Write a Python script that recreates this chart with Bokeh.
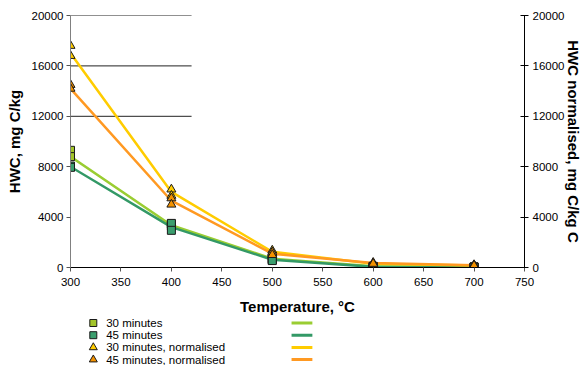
from bokeh.plotting import figure
from bokeh.layouts import column
from bokeh.models import Range1d, LinearAxis, FixedTicker
from bokeh.core.properties import value
from bokeh.embed import file_html
from bokeh.resources import INLINE

# ---- data ----
temps = [300, 400, 500, 600, 700]
mean_30 = [8800, 3350, 700, 100, 50]
mean_45 = [8000, 3200, 620, 50, 20]
mean_30n = [17000, 6000, 1250, 300, 150]
mean_45n = [14200, 5300, 1100, 350, 180]

rep_temps = [300, 300, 400, 400, 500, 500, 600, 600, 700, 700]
rep_30 = [9300, 8800, 3450, 3300, 700, 650, 100, 80, 50, 40]
rep_45 = [8050, 7950, 3500, 2950, 600, 550, 50, 30, 20, 10]
rep_30n = [17600, 16800, 6200, 5700, 1350, 1150, 320, 250, 180, 120]
rep_45n = [14500, 14200, 5500, 5000, 1200, 1000, 380, 300, 200, 150]

series_labels = ["30 minutes", "45 minutes", "30 minutes, normalised", "45 minutes, normalised"]

x_ticks = [300, 350, 400, 450, 500, 550, 600, 650, 700, 750]
y_ticks = [0, 4000, 8000, 12000, 16000, 20000]
grid_levels = [12000, 16000, 20000]
grid_from = [300, 300, 300]
grid_to = [420, 420, 420]

FONT = "Liberation Sans"
C30_LINE, C30_FILL = "#9ACD32", "#A2C42A"
C45_LINE, C45_FILL = "#339966", "#3A9E6E"
C30N_LINE, C30N_FILL = "#FFCC00", "#FFCC00"
C45N_LINE, C45N_FILL = "#FF9922", "#F39200"

BL, BR = 70, 57  # left / right borders (frame spans 70..528 px)

p = figure(width=585, height=318, output_backend="svg", toolbar_location=None,
           x_range=Range1d(300, 750), y_range=Range1d(0, 20000),
           min_border_left=BL, min_border_right=BR, min_border_top=15, min_border_bottom=51,
           background_fill_color="white", border_fill_color="white")
p.outline_line_color = None
p.xgrid.visible = False
p.ygrid.visible = False
p.extra_y_ranges = {"right": Range1d(0, 20000)}

# partial gridlines
p.segment(x0=grid_from, y0=grid_levels, x1=grid_to, y1=grid_levels,
          line_color="#222222", line_width=1)

# axes
for ax in [p.xaxis[0], p.yaxis[0]]:
    ax.major_label_text_font = FONT
    ax.major_label_text_font_size = "11.5px"
    ax.major_label_text_color = "black"
    ax.axis_label_text_font = FONT
    ax.axis_label_text_font_size = "15px"
    ax.axis_label_text_font_style = "bold"
    ax.axis_label_text_color = "black"
    ax.minor_tick_line_color = None

p.xaxis.ticker = FixedTicker(ticks=x_ticks)
p.xaxis.axis_label = "Temperature, °C"
p.xaxis.axis_line_color = "black"
p.xaxis.major_tick_line_color = "#555555"
p.xaxis.major_tick_in = 0
p.xaxis.major_tick_out = 4
p.xaxis.major_label_standoff = 6
p.xaxis.axis_label_standoff = 9

p.yaxis.ticker = FixedTicker(ticks=y_ticks)
p.yaxis.axis_label = "HWC, mg C/kg"
p.yaxis.axis_line_color = "#808080"
p.yaxis.major_tick_line_color = "#555555"
p.yaxis.major_tick_in = 0
p.yaxis.major_tick_out = 4
p.yaxis.major_label_standoff = 3
p.yaxis.axis_label_standoff = 6

rax = LinearAxis(y_range_name="right", ticker=FixedTicker(ticks=y_ticks),
                 axis_label="HWC normalised, mg C/kg C")
rax.major_label_text_font = FONT
rax.major_label_text_font_size = "11.5px"
rax.major_label_text_color = "black"
rax.axis_label_text_font = FONT
rax.axis_label_text_font_size = "15px"
rax.axis_label_text_font_style = "bold"
rax.axis_label_text_color = "black"
rax.minor_tick_line_color = None
rax.axis_line_color = "black"
rax.major_tick_line_color = "black"
rax.major_tick_in = 4
rax.major_tick_out = 4
rax.major_label_standoff = 4
rax.axis_label_standoff = -2
p.add_layout(rax, "right")

# mean lines
p.line(temps, mean_30, line_color=C30_LINE, line_width=2.5)
p.line(temps, mean_45, line_color=C45_LINE, line_width=2.5)
p.line(temps, mean_30n, line_color=C30N_LINE, line_width=2.5, y_range_name="right")
p.line(temps, mean_45n, line_color=C45N_LINE, line_width=2.5, y_range_name="right")

# replicate markers
mk = dict(line_color="#1a1a1a", line_width=1)
p.scatter(rep_temps, rep_30, marker="square", size=8, fill_color=C30_FILL, **mk)
p.scatter(rep_temps, rep_45, marker="square", size=8, fill_color=C45_FILL, **mk)
p.scatter(rep_temps, rep_30n, marker="triangle", size=9, fill_color=C30N_FILL,
          y_range_name="right", **mk)
p.scatter(rep_temps, rep_45n, marker="triangle", size=9, fill_color=C45N_FILL,
          y_range_name="right", **mk)

# ---- legend strip under the chart (pixel-space figure, y downwards) ----
LEG_H = 47
q = figure(width=585, height=LEG_H, output_backend="svg", toolbar_location=None,
           x_range=Range1d(BL, 585 - BR), y_range=Range1d(LEG_H, 0),
           x_axis_type=None, y_axis_type=None,
           min_border_left=BL, min_border_right=BR, min_border_top=0, min_border_bottom=0,
           background_fill_color="white", border_fill_color="white")
q.outline_line_color = None
q.xgrid.visible = False
q.ygrid.visible = False

leg_rows = [4.5, 16.7, 28.9, 41.1]
leg_marker_x = [93, 93, 93, 93]
leg_text_x = [106, 106, 106, 106]
leg_swatch_x0 = [293, 293, 293, 293]
leg_swatch_x1 = [314, 314, 314, 314]
leg_markers = ["square", "square", "triangle", "triangle"]
leg_fills = [C30_FILL, C45_FILL, C30N_FILL, C45N_FILL]
leg_lines = [C30_LINE, C45_LINE, C30N_LINE, C45N_LINE]
leg_sizes = [7, 7, 8, 8]

q.scatter(x=leg_marker_x, y=leg_rows, marker=leg_markers, fill_color=leg_fills,
          size=leg_sizes, **mk)
q.text(x=leg_text_x, y=leg_rows, text=series_labels, text_baseline="middle",
       text_align="left", text_font=value(FONT), text_font_size="11.5px",
       text_color="black")
q.segment(x0=leg_swatch_x0, y0=leg_rows, x1=leg_swatch_x1, y1=leg_rows,
          line_color=leg_lines, line_width=3)

layout = column(p, q, spacing=0)
open("out.html", "w").write(file_html(layout, INLINE))
